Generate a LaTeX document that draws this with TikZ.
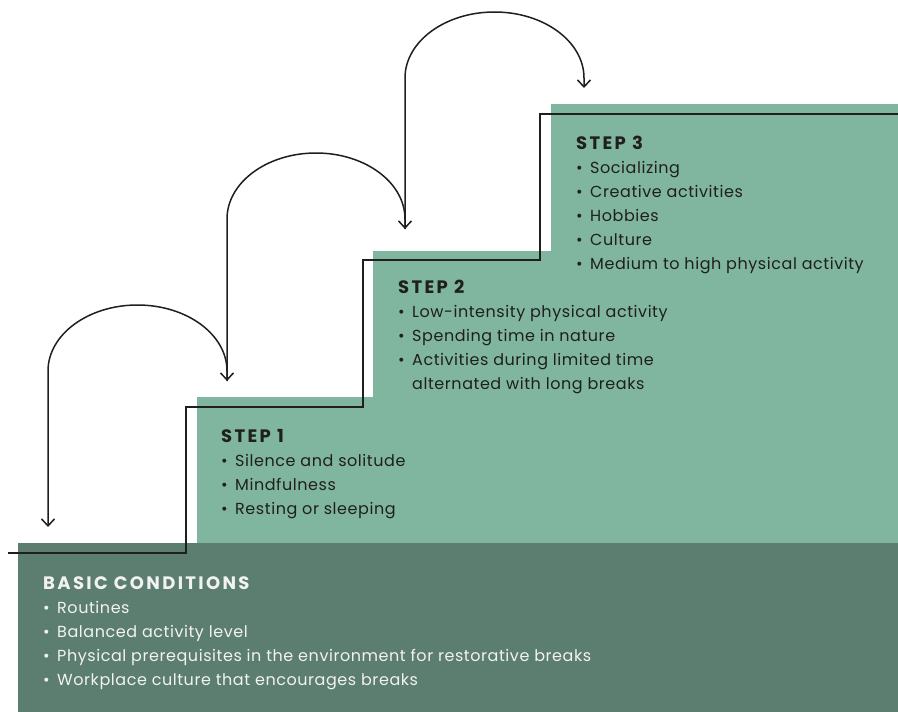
\documentclass[tikz,border=0pt]{standalone}
\usepackage{fontspec}
\setmainfont{Poppins}
\usetikzlibrary{arrows.meta}
\definecolor{stepLight}{HTML}{80B69F}
\definecolor{stepDark}{HTML}{5B7E70}
\colorlet{stairInk}{black!88}
\colorlet{baseInk}{white!95!black}
\NewDocumentCommand\Bullet{}{\makebox[14pt][l]{\textbullet}}%
\NewDocumentCommand\Hang{}{\hspace*{14pt}}%
\NewDocumentCommand\StepHead{m}%
{%
{\fontsize{18}{24}\selectfont\bfseries\addfontfeatures{LetterSpace=13}#1}%
}
\tikzset{
  steptext/.style={anchor=base west,inner sep=0pt,align=left,
    font=\fontsize{16}{24}\selectfont\addfontfeatures{LetterSpace=3.5},text=stairInk},
  hop/.style={line width=1.5pt,stairInk,-{Straight Barb[length=7pt,width=13pt]}},
}

\begin{document}
\begin{tikzpicture}[x=1pt,y=-1pt]
\useasboundingbox (0,0) rectangle (898,712);
\fill[stepLight] (197,543) -- (197,397) -- (373,397) -- (373,251) -- (551,251)
  -- (551,104) -- (898,104) -- (898,543) -- cycle;
\fill[stepDark] (18,543) rectangle (898,712);
\draw[stairInk,line width=1.8pt] (8,553) -- (186,553) -- (186,407) -- (363,407)
  -- (363,260) -- (540,260) -- (540,114) -- (898,114);
% landing points of the jumps
\coordinate (landBase) at (48,527);
\coordinate (landOne) at (227,381);
\coordinate (landTwo) at (405,229);
\coordinate (landThree) at (584,88);
\draw[hop,{Straight Barb[length=7pt,width=13pt]}-{Straight Barb[length=7pt,width=13pt]}]
  (landBase) -- ++(0,-156)
  arc[start angle=180,end angle=0,x radius=89.5pt,y radius=66pt] -- (landOne);
\draw[hop] (landOne) -- ++(0,-162)
  arc[start angle=180,end angle=0,x radius=89pt,y radius=66pt] -- (landTwo);
\draw[hop] (landTwo) -- ++(0,-151)
  arc[start angle=180,end angle=0,x radius=89.5pt,y radius=66pt] -- (landThree);
% nodes sit on the baseline of their last line
\node[steptext] (stepThree) at (576,269) {\StepHead{STEP 3}\\
  \Bullet Socializing\\
  \Bullet Creative activities\\
  \Bullet Hobbies\\
  \Bullet Culture\\
  \Bullet Medium to high physical activity};
\node[steptext] (stepTwo) at (398,389) {\StepHead{STEP 2}\\
  \Bullet Low-intensity physical activity\\
  \Bullet Spending time in nature\\
  \Bullet Activities during limited time\\
  \Hang alternated with long breaks};
\node[steptext] (stepOne) at (221,514) {\StepHead{STEP 1}\\
  \Bullet Silence and solitude\\
  \Bullet Mindfulness\\
  \Bullet Resting or sleeping};
\node[steptext,text=baseInk] (basics) at (43,685) {\StepHead{BASIC CONDITIONS}\\
  \Bullet Routines\\
  \Bullet Balanced activity level\\
  \Bullet Physical prerequisites in the environment for restorative breaks\\
  \Bullet Workplace culture that encourages breaks};
\end{tikzpicture}
\end{document}
